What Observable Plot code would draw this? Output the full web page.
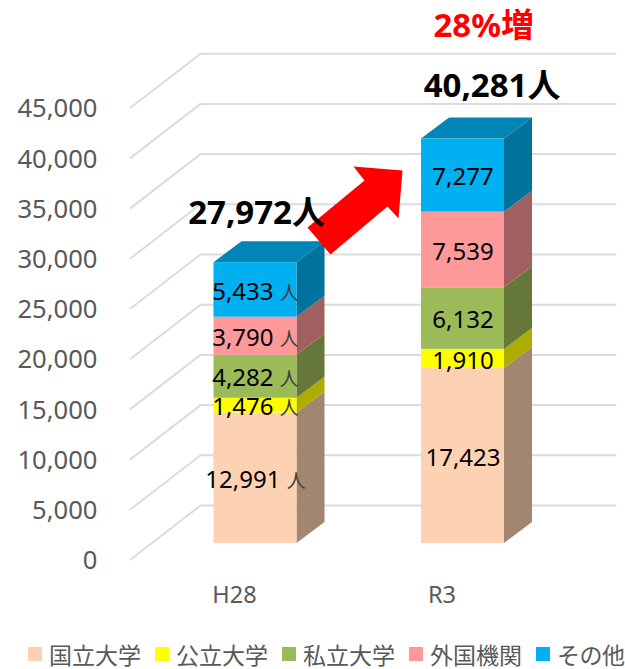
<!DOCTYPE html>
<html lang="ja">
<head>
<meta charset="utf-8">
<script src="https://cdn.jsdelivr.net/npm/d3@7"></script>
<script src="https://cdn.jsdelivr.net/npm/@observablehq/plot@0.6"></script>
<style>
  html, body { margin: 0; padding: 0; background: #fff; overflow: hidden; }
  svg { display: block; }
  #legend { display: flex; margin: 4px 0 0 28px; height: 30px; align-items: center;
            font: 23px/24px "Noto Sans CJK JP", sans-serif; color: #595959; }
  #legend .item { display: flex; flex: none; align-items: center; width: 127px; white-space: nowrap; }
  #legend .item:last-child { width: 89px; }
  #legend i { display: block; flex: none; width: 14px; height: 14px; margin-right: 7px; }
  #legend .item:last-child span { letter-spacing: -0.5px; }
</style>
</head>
<body>
<div id="chart"></div>
<div id="legend"></div>
<script>
const categories = ["H28", "R3"];
const seriesNames = ["国立大学", "公立大学", "私立大学", "外国機関", "その他"];
const valuesH28 = [12991, 1476, 4282, 3790, 5433];
const valuesR3 = [17423, 1910, 6132, 7539, 7277];
const totals = [27972, 40281];
const yTicks = [0, 5000, 10000, 15000, 20000, 25000, 30000, 35000, 40000, 45000];
const frontColors = ["#FDD2B3", "#FFFF00", "#9BBB59", "#FF9999", "#00B0F0"];
const sideColors = ["#A38670", "#ADAD00", "#66773A", "#A16060", "#00729C"];
const topColor = "#0085B5";
const growthLabel = "28%増";
const unit = "人";

// Depth and annotation constants, expressed in the chart's own data units
const halfWidth = 0.2, depthX = 0.135, depthY = 2092;
const gridFront = {x: -0.602, dy: -1594};
const gridBack = {x: -0.265, dy: 3785};
const gridEndX = 1.735;
const arrowX = [0.2506, 0.5253, 0.4723, 0.7084, 0.6892, 0.6361, 0.3614];
const arrowY = [31474, 36155, 37550, 37151, 32371, 33566, 28785];

const fmt = d3.format(",");
const rows = [valuesH28, valuesR3].flatMap((vals, c) => {
  let sum = 0;
  return vals.map((v, s) => {
    const lo = sum; sum += v;
    return {c, s, v, lo, hi: sum, key: c + "-" + s};
  });
});
const sideRows = rows.flatMap(d => [0, 1].map(t => ({
  ...d, x: d.c + halfWidth + t * depthX, y1: d.lo + t * depthY, y2: d.hi + t * depthY
})));
const topRows = [0, 1].flatMap(c => [0, 1].map(t => ({
  key: c, x1: c - halfWidth + t * depthX, x2: c + halfWidth + t * depthX, y: totals[c] + t * depthY
})));
const gridRows = yTicks.flatMap(v => [
  {v, x: gridFront.x, y: v + gridFront.dy},
  {v, x: gridBack.x, y: v + gridBack.dy},
  {v, x: gridEndX, y: v + gridBack.dy}
]);

function barMarks(c) {
  const r = rows.filter(d => d.c === c);
  const sr = sideRows.filter(d => d.c === c);
  const tr = topRows.filter(d => d.key === c);
  return [
    Plot.area(sr, {x1: "x", y1: "y1", y2: "y2", z: "key", fill: d => sideColors[d.s]}),
    Plot.area(tr, {x1: "x1", x2: "x2", y1: "y", y2: "y", z: "key", fill: topColor}),
    Plot.rect(r, {x1: d => d.c - halfWidth, x2: d => d.c + halfWidth, y1: "lo", y2: "hi", fill: d => frontColors[d.s]})
  ];
}

const unitSpan = {
  render(index, scales, values, dimensions, context, next) {
    const g = next(index, scales, values, dimensions, context);
    d3.select(g).selectAll("text").each(function () {
      const t = this.textContent.split(" ");
      if (t.length < 2) return;
      this.textContent = t[0] + " ";
      d3.select(this).append("tspan").attr("fill", "#404040").attr("font-size", 19).text(t[1]);
    });
    return g;
  }
};

const chart = Plot.plot({
  width: 625, height: 635,
  marginLeft: 97, marginBottom: 92, marginTop: 0, marginRight: 0,
  x: {domain: [-1.2289, 1.7831], range: [0, 625]},
  y: {domain: [0, 54084], range: [543, 0]},
  color: {type: "identity"},
  style: {fontFamily: "'Noto Sans', 'Noto Sans CJK JP', sans-serif", background: "#fff", overflow: "visible"},
  marks: [
    Plot.line(gridRows, {x: "x", y: "y", z: "v", stroke: "#DCDCDC", strokeWidth: 2}),
    Plot.axisY({ticks: yTicks, tickSize: 0, tickPadding: 0, dy: 17.5, tickFormat: fmt, label: null, fontSize: 25.6, fill: "#595959"}),
    Plot.axisX({ticks: [0, 1], tickSize: 0, tickPadding: 43, dx: -21, tickFormat: i => categories[i], label: null, fontSize: 23.5, fill: "#595959"}),
    ...barMarks(0),
    ...barMarks(1),
    Plot.line(arrowX.map((x, i) => ({x, y: arrowY[i]})), {x: "x", y: "y", fill: "#FF0000", stroke: "none"}),
    Plot.text(rows, {
      x: "c", y: d => (d.lo + d.hi) / 2, dy: 2, fontSize: 24, fill: "#000",
      text: d => d.c === 0 ? fmt(d.v) + " " + unit : fmt(d.v), ...unitSpan
    }),
    Plot.text(totals, {
      x: (d, i) => i === 0 ? 0.005 : 1.14, y: (d, i) => d + (i === 0 ? 4897 : 5237),
      text: d => fmt(d) + unit, fontSize: 33, fontWeight: "bold", fill: "#000"
    }),
    Plot.text([growthLabel], {x: [1.1], y: [51500], text: d => d, fontSize: 33, fontWeight: "bold", fill: "#FF0000"})
  ]
});
document.getElementById("chart").append(chart);

const legend = d3.select("#legend");
seriesNames.forEach((name, i) => {
  const item = legend.append("div").attr("class", "item");
  item.append("i").style("background", frontColors[i]);
  item.append("span").text(name);
});
</script>
</body>
</html>
